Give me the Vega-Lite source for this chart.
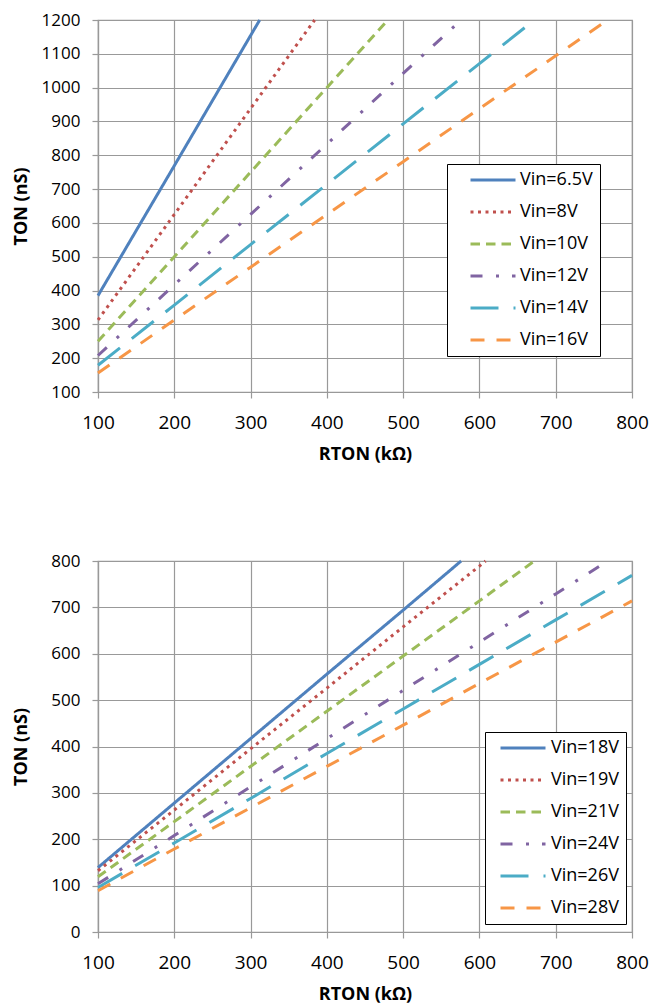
{
  "$schema": "https://vega.github.io/schema/vega-lite/v6.json",
  "autosize": {"type": "pad"},
  "padding": {"left": 11, "top": 10, "right": 5, "bottom": 5},
  "bounds": "flush",
  "spacing": 169,
  "config": {
    "font": "Open Sans",
    "view": {"stroke": "#999999", "strokeWidth": 1.2},
    "axis": {
      "gridColor": "#999999", "gridWidth": 1.2, "gridOpacity": 1,
      "domainColor": "#999999", "domainWidth": 1.2,
      "tickColor": "#999999", "tickWidth": 1.2, "tickSize": 6,
      "labelColor": "#000000", "titleColor": "#000000",
      "labelFont": "Open Sans", "titleFont": "Open Sans",
      "titleFontWeight": "bold", "titleFontSize": 18, "format": "d",
      "labelFlush": false, "labelOverlap": false
    },
    "axisX": {"labelFontSize": 19, "labelBaseline": "alphabetic", "labelPadding": 30, "titleBaseline": "alphabetic", "titleX": 267, "titleY": 67},
    "axisY": {"labelFontSize": 17, "labelPadding": 12, "titleBaseline": "alphabetic", "titleX": -72},
    "legend": {
      "symbolType": "stroke", "symbolSize": 2025, "symbolStrokeWidth": 3,
      "labelFontSize": 18, "labelFont": "Open Sans", "labelColor": "#000000",
      "fillColor": "#ffffff", "strokeColor": "#000000",
      "clipHeight": 18, "rowPadding": 14, "padding": 7, "labelOffset": 3
    }
  },
  "vconcat": [
    {
      "width": 534,
      "height": 372,
      "data": {"values": [
        {"series": "Vin=6.5V", "rton": 100, "ton": 385},
        {"series": "Vin=6.5V", "rton": 200, "ton": 769},
        {"series": "Vin=6.5V", "rton": 300, "ton": 1154},
        {"series": "Vin=6.5V", "rton": 312, "ton": 1200},
        {"series": "Vin=8V", "rton": 100, "ton": 313},
        {"series": "Vin=8V", "rton": 200, "ton": 625},
        {"series": "Vin=8V", "rton": 300, "ton": 938},
        {"series": "Vin=8V", "rton": 384, "ton": 1200},
        {"series": "Vin=10V", "rton": 100, "ton": 250},
        {"series": "Vin=10V", "rton": 200, "ton": 500},
        {"series": "Vin=10V", "rton": 300, "ton": 750},
        {"series": "Vin=10V", "rton": 400, "ton": 1000},
        {"series": "Vin=10V", "rton": 480, "ton": 1200},
        {"series": "Vin=12V", "rton": 100, "ton": 208},
        {"series": "Vin=12V", "rton": 200, "ton": 417},
        {"series": "Vin=12V", "rton": 300, "ton": 625},
        {"series": "Vin=12V", "rton": 400, "ton": 833},
        {"series": "Vin=12V", "rton": 500, "ton": 1042},
        {"series": "Vin=12V", "rton": 576, "ton": 1200},
        {"series": "Vin=14V", "rton": 100, "ton": 179},
        {"series": "Vin=14V", "rton": 200, "ton": 357},
        {"series": "Vin=14V", "rton": 300, "ton": 536},
        {"series": "Vin=14V", "rton": 400, "ton": 714},
        {"series": "Vin=14V", "rton": 500, "ton": 893},
        {"series": "Vin=14V", "rton": 600, "ton": 1071},
        {"series": "Vin=14V", "rton": 672, "ton": 1200},
        {"series": "Vin=16V", "rton": 100, "ton": 156},
        {"series": "Vin=16V", "rton": 200, "ton": 313},
        {"series": "Vin=16V", "rton": 300, "ton": 469},
        {"series": "Vin=16V", "rton": 400, "ton": 625},
        {"series": "Vin=16V", "rton": 500, "ton": 781},
        {"series": "Vin=16V", "rton": 600, "ton": 938},
        {"series": "Vin=16V", "rton": 700, "ton": 1094},
        {"series": "Vin=16V", "rton": 768, "ton": 1200}
      ]},
      "mark": {"type": "line", "strokeWidth": 3},
      "encoding": {
        "x": {"field": "rton", "type": "quantitative",
              "scale": {"domain": [100, 800], "nice": false, "zero": false},
              "axis": {"values": [100, 200, 300, 400, 500, 600, 700, 800], "title": "RTON (kΩ)"}},
        "y": {"field": "ton", "type": "quantitative",
              "scale": {"domain": [100, 1200], "nice": false, "zero": false},
              "axis": {"values": [100, 200, 300, 400, 500, 600, 700, 800, 900, 1000, 1100, 1200], "title": "TON (nS)", "titleY": 186}},
        "color": {"field": "series", "type": "nominal",
                  "scale": {"domain": ["Vin=6.5V", "Vin=8V", "Vin=10V", "Vin=12V", "Vin=14V", "Vin=16V"],
                            "range": ["#4F81BD", "#C0504D", "#9BBB59", "#8064A2", "#4BACC6", "#F79646"]},
                  "legend": {"title": null, "orient": "none", "legendX": 349, "legendY": 144, "symbolOffset": 15,
                             "labelExpr": "datum.label + '\u00a0\u00a0\u00a0\u00a0\u00a0'"}},
        "strokeDash": {"field": "series", "type": "nominal",
                       "scale": {"domain": ["Vin=6.5V", "Vin=8V", "Vin=10V", "Vin=12V", "Vin=14V", "Vin=16V"],
                                 "range": [[1, 0], [3, 4.5], [9.5, 6], [12, 13.5, 3, 13], [28, 15], [14, 12]]},
                       "legend": {"title": null, "orient": "none", "legendX": 349, "legendY": 144, "symbolOffset": 15,
                                  "labelExpr": "datum.label + '\u00a0\u00a0\u00a0\u00a0\u00a0'"}}
      }
    },
    {
      "width": 534,
      "height": 371,
      "data": {"values": [
        {"series": "Vin=18V", "rton": 100, "ton": 139},
        {"series": "Vin=18V", "rton": 200, "ton": 278},
        {"series": "Vin=18V", "rton": 300, "ton": 417},
        {"series": "Vin=18V", "rton": 400, "ton": 556},
        {"series": "Vin=18V", "rton": 500, "ton": 694},
        {"series": "Vin=18V", "rton": 576, "ton": 800},
        {"series": "Vin=19V", "rton": 100, "ton": 132},
        {"series": "Vin=19V", "rton": 200, "ton": 263},
        {"series": "Vin=19V", "rton": 300, "ton": 395},
        {"series": "Vin=19V", "rton": 400, "ton": 526},
        {"series": "Vin=19V", "rton": 500, "ton": 658},
        {"series": "Vin=19V", "rton": 600, "ton": 789},
        {"series": "Vin=19V", "rton": 608, "ton": 800},
        {"series": "Vin=21V", "rton": 100, "ton": 119},
        {"series": "Vin=21V", "rton": 200, "ton": 238},
        {"series": "Vin=21V", "rton": 300, "ton": 357},
        {"series": "Vin=21V", "rton": 400, "ton": 476},
        {"series": "Vin=21V", "rton": 500, "ton": 595},
        {"series": "Vin=21V", "rton": 600, "ton": 714},
        {"series": "Vin=21V", "rton": 672, "ton": 800},
        {"series": "Vin=24V", "rton": 100, "ton": 104},
        {"series": "Vin=24V", "rton": 200, "ton": 208},
        {"series": "Vin=24V", "rton": 300, "ton": 313},
        {"series": "Vin=24V", "rton": 400, "ton": 417},
        {"series": "Vin=24V", "rton": 500, "ton": 521},
        {"series": "Vin=24V", "rton": 600, "ton": 625},
        {"series": "Vin=24V", "rton": 700, "ton": 729},
        {"series": "Vin=24V", "rton": 768, "ton": 800},
        {"series": "Vin=26V", "rton": 100, "ton": 96},
        {"series": "Vin=26V", "rton": 200, "ton": 192},
        {"series": "Vin=26V", "rton": 300, "ton": 288},
        {"series": "Vin=26V", "rton": 400, "ton": 385},
        {"series": "Vin=26V", "rton": 500, "ton": 481},
        {"series": "Vin=26V", "rton": 600, "ton": 577},
        {"series": "Vin=26V", "rton": 700, "ton": 673},
        {"series": "Vin=26V", "rton": 800, "ton": 769},
        {"series": "Vin=28V", "rton": 100, "ton": 89},
        {"series": "Vin=28V", "rton": 200, "ton": 179},
        {"series": "Vin=28V", "rton": 300, "ton": 268},
        {"series": "Vin=28V", "rton": 400, "ton": 357},
        {"series": "Vin=28V", "rton": 500, "ton": 446},
        {"series": "Vin=28V", "rton": 600, "ton": 536},
        {"series": "Vin=28V", "rton": 700, "ton": 625},
        {"series": "Vin=28V", "rton": 800, "ton": 714}
      ]},
      "mark": {"type": "line", "strokeWidth": 3},
      "encoding": {
        "x": {"field": "rton", "type": "quantitative",
              "scale": {"domain": [100, 800], "nice": false, "zero": false},
              "axis": {"values": [100, 200, 300, 400, 500, 600, 700, 800], "title": "RTON (kΩ)"}},
        "y": {"field": "ton", "type": "quantitative",
              "scale": {"domain": [0, 800], "nice": false},
              "axis": {"values": [0, 100, 200, 300, 400, 500, 600, 700, 800], "title": "TON (nS)", "titleY": 185.5}},
        "color": {"field": "series", "type": "nominal",
                  "scale": {"domain": ["Vin=18V", "Vin=19V", "Vin=21V", "Vin=24V", "Vin=26V", "Vin=28V"],
                            "range": ["#4F81BD", "#C0504D", "#9BBB59", "#8064A2", "#4BACC6", "#F79646"]},
                  "legend": {"title": null, "orient": "none", "legendX": 387, "legendY": 171, "symbolOffset": 7,
                             "labelOffset": 4, "labelExpr": "datum.label + '\u00a0'"}},
        "strokeDash": {"field": "series", "type": "nominal",
                       "scale": {"domain": ["Vin=18V", "Vin=19V", "Vin=21V", "Vin=24V", "Vin=26V", "Vin=28V"],
                                 "range": [[1, 0], [3, 4.5], [9.5, 6], [12, 13.5, 3, 13], [28, 15], [14, 12]]},
                       "legend": {"title": null, "orient": "none", "legendX": 387, "legendY": 171, "symbolOffset": 7,
                                  "labelOffset": 4, "labelExpr": "datum.label + '\u00a0'"}}
      }
    }
  ],
  "resolve": {"scale": {"color": "independent", "strokeDash": "independent"}, "legend": {"color": "independent", "strokeDash": "independent"}}
}
